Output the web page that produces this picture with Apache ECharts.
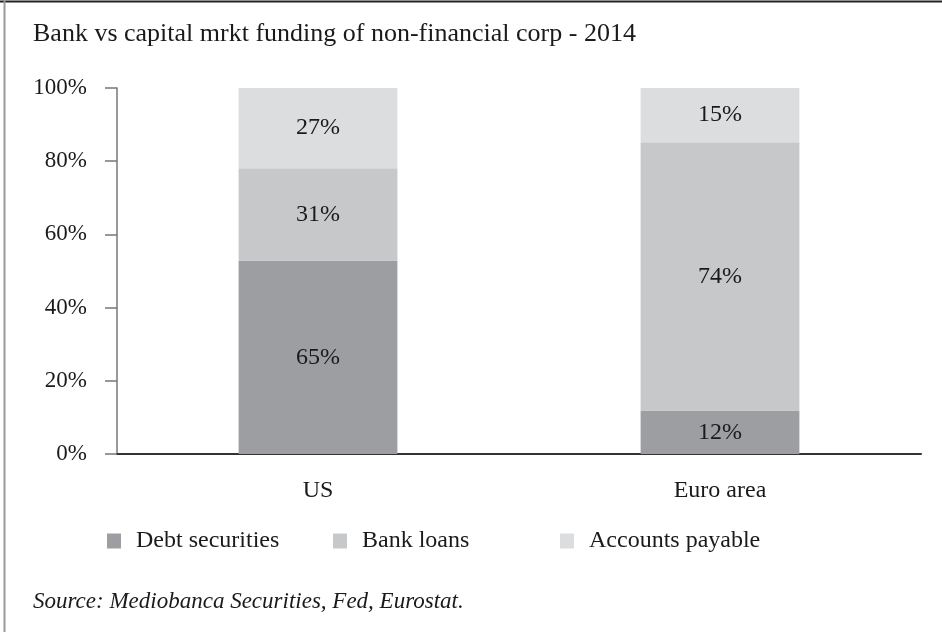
<!DOCTYPE html>
<html>
<head>
<meta charset="utf-8">
<script src="https://cdn.jsdelivr.net/npm/echarts@6/dist/echarts.min.js"></script>
<style>
  html, body { margin: 0; padding: 0; background: #fff; }
  #chart { width: 942px; height: 632px; }
</style>
</head>
<body>
<div id="chart"></div>
<script>
// Funding mix of non-financial corporations, 2014 (shares as reported)
const categories = ['US', 'Euro area'];
const debtSecurities = [65, 12];
const bankLoans = [31, 74];
const accountsPayable = [27, 15];
const seriesNames = ['Debt securities', 'Bank loans', 'Accounts payable'];
const yTicks = [0, 20, 40, 60, 80, 100];

const colors = ['#9d9ea2', '#c7c8ca', '#dcdddf'];
const FONT = '"Liberation Serif", "DejaVu Serif", serif';

// Each column is scaled to 100% of its total; labels keep the reported figure
const raw = [debtSecurities, bankLoans, accountsPayable];
const totals = categories.map((_, i) => raw.reduce((s, arr) => s + arr[i], 0));
const shares = raw.map(arr => arr.map((v, i) => v / totals[i] * 100));

const chart = echarts.init(document.getElementById('chart'), null, { renderer: 'canvas' });

const legendLeft = [107, 333, 560];

chart.setOption({
  backgroundColor: '#fff',
  animation: false,
  title: {
    text: 'Bank vs capital mrkt funding of non-financial corp - 2014',
    left: 33,
    top: 21,
    padding: 0,
    textStyle: { fontFamily: FONT, fontWeight: 'normal', fontSize: 26, color: '#1a1a1a' }
  },
  legend: seriesNames.map((name, k) => ({
    data: [name],
    left: legendLeft[k],
    top: 529,
    padding: 0,
    icon: 'rect',
    itemWidth: 14,
    itemHeight: 15,
    itemGap: 0,
    textStyle: { fontFamily: FONT, fontSize: 24, color: '#1a1a1a', padding: [0, 0, 0, 10] },
    selectedMode: false
  })),
  grid: { left: 117, right: 21, top: 88, bottom: 178, containLabel: false },
  xAxis: {
    type: 'category',
    data: categories,
    axisLine: { show: true, lineStyle: { color: '#333', width: 2 } },
    axisTick: { show: false },
    axisLabel: { fontFamily: FONT, fontSize: 24, color: '#1a1a1a', margin: 25 }
  },
  yAxis: {
    type: 'value',
    min: yTicks[0],
    max: yTicks[yTicks.length - 1],
    interval: 20,
    splitLine: { show: false },
    axisLine: { show: true, lineStyle: { color: '#777', width: 1.5 } },
    axisTick: { show: true, length: 12, lineStyle: { color: '#777', width: 1.5 } },
    axisLabel: { fontFamily: FONT, fontSize: 23, color: '#1a1a1a', margin: 30, formatter: v => v + '%' }
  },
  series: seriesNames.map((name, k) => ({
    name: name,
    type: 'bar',
    stack: 'total',
    barWidth: '39.5%',
    itemStyle: { color: colors[k] },
    label: {
      show: true,
      position: 'inside',
      fontFamily: FONT,
      fontSize: 24,
      color: '#1a1a1a',
      formatter: p => raw[k][p.dataIndex] + '%'
    },
    data: shares[k]
  })),
  graphic: [
    { type: 'line', shape: { x1: 0, y1: 1.5, x2: 942, y2: 1.5 }, style: { stroke: '#222', lineWidth: 2 } },
    { type: 'line', shape: { x1: 4.5, y1: 0, x2: 4.5, y2: 632 }, style: { stroke: '#999', lineWidth: 2 } },
    {
      type: 'text',
      left: 33,
      top: 590,
      style: {
        text: 'Source: Mediobanca Securities, Fed, Eurostat.',
        font: 'italic 23px ' + FONT,
        fill: '#1a1a1a'
      }
    }
  ]
});
</script>
</body>
</html>
